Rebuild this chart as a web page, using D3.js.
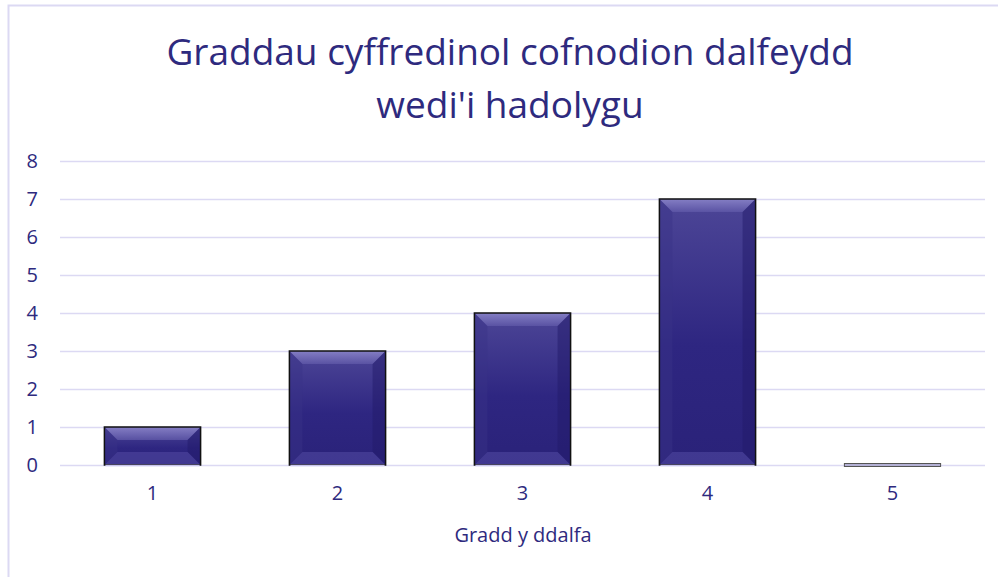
<!DOCTYPE html>
<html>
<head>
<meta charset="utf-8">
<script src="https://cdn.jsdelivr.net/npm/d3@7/dist/d3.min.js"></script>
<style>
  html, body { margin: 0; padding: 0; background: #fff; }
  svg { display: block; }
</style>
</head>
<body>
<svg id="chart" width="998" height="577"></svg>
<script>
// Chart data
const categories = ["1", "2", "3", "4", "5"];
const values = [1, 3, 4, 7, 0];
const yTicks = [0, 1, 2, 3, 4, 5, 6, 7, 8];
const titleLines = ["Graddau cyffredinol cofnodion dalfeydd", "wedi'i hadolygu"];
const xAxisTitle = "Gradd y ddalfa";

const W = 998, H = 577;
const ink = "#2e2a7e";
const gridColor = "#dcd9f3";
const font = "'Open Sans', 'Noto Sans', sans-serif";

const svg = d3.select("#chart");
const defs = svg.append("defs");

// Body gradient for the bevelled bars
const g1 = defs.append("linearGradient").attr("id", "barBody")
  .attr("x1", 0).attr("y1", 0).attr("x2", 0).attr("y2", 1);
g1.append("stop").attr("offset", "0%").attr("stop-color", "#4d4697");
g1.append("stop").attr("offset", "55%").attr("stop-color", "#2e2681");
g1.append("stop").attr("offset", "100%").attr("stop-color", "#2a2279");

// Top bevel gradient: bright at the edge, fading inwards
const g2 = defs.append("linearGradient").attr("id", "bevelTop")
  .attr("x1", 0).attr("y1", 0).attr("x2", 0).attr("y2", 1);
g2.append("stop").attr("offset", "0%").attr("stop-color", "#8e88cc");
g2.append("stop").attr("offset", "100%").attr("stop-color", "#5d56a6");

// Chart frame
svg.append("rect")
  .attr("x", 8.5).attr("y", 5.5)
  .attr("width", W + 10).attr("height", H + 10)
  .attr("fill", "none").attr("stroke", gridColor).attr("stroke-width", 2);

// Title
svg.append("text")
  .attr("text-anchor", "middle")
  .attr("font-family", font).attr("font-size", 37)
  .attr("fill", ink)
  .selectAll("tspan").data(titleLines).join("tspan")
  .attr("x", 510).attr("y", (d, i) => 65 + i * 53)
  .text(d => d);

const x = d3.scaleBand().domain(categories).range([60, 985]).paddingInner(0.48).paddingOuter(0.24);
const y = d3.scaleLinear().domain([0, 8]).range([465, 161]);

// Gridlines
svg.append("g").selectAll("line").data(yTicks).join("line")
  .attr("x1", 60).attr("x2", 985)
  .attr("y1", d => y(d) + 0.5).attr("y2", d => y(d) + 0.5)
  .attr("stroke", gridColor).attr("stroke-width", 1.5);

// Y axis labels
const yAxis = d3.axisLeft(y).tickValues(yTicks).tickSize(0).tickPadding(0);
const yg = svg.append("g").attr("transform", "translate(38,0)").call(yAxis);
yg.select(".domain").remove();
yg.selectAll("text")
  .attr("font-family", font).attr("font-size", 20).attr("fill", ink);

// X axis labels
const xAxis = d3.axisBottom(x).tickSize(0).tickPadding(0);
const xg = svg.append("g").attr("transform", "translate(0,486)").call(xAxis);
xg.select(".domain").remove();
xg.selectAll("text")
  .attr("font-family", font).attr("font-size", 20).attr("fill", ink);

// X axis title
svg.append("text")
  .attr("x", 523).attr("y", 542)
  .attr("text-anchor", "middle")
  .attr("font-family", font).attr("font-size", 20)
  .attr("fill", ink)
  .text(xAxisTitle);

// Bars with bevel
const bars = svg.append("g").selectAll("g").data(values.map((v, i) => ({ c: categories[i], v })))
  .join("g");

bars.each(function(d) {
  const g = d3.select(this);
  const x0 = x(d.c), w = x.bandwidth();
  const y0 = y(d.v), y1 = y(0);
  const h = y1 - y0;
  if (h < 2) {
    // zero-height bar: flat outline only
    g.append("rect").attr("x", x0).attr("y", y1 - 1.5).attr("width", w).attr("height", 3)
      .attr("fill", "#b3b0d4").attr("stroke", "#555").attr("stroke-width", 1);
    return;
  }
  const b = Math.min(13, h / 2);
  g.append("rect").attr("x", x0).attr("y", y0).attr("width", w).attr("height", h)
    .attr("fill", "url(#barBody)");
  // top bevel (light)
  g.append("polygon")
    .attr("points", [[x0, y0], [x0 + w, y0], [x0 + w - b, y0 + b], [x0 + b, y0 + b]].join(" "))
    .attr("fill", "url(#bevelTop)").attr("opacity", 0.85);
  // left bevel
  g.append("polygon")
    .attr("points", [[x0, y0], [x0 + b, y0 + b], [x0 + b, y1 - b], [x0, y1]].join(" "))
    .attr("fill", "#3a3288").attr("opacity", 0.45);
  // right bevel
  g.append("polygon")
    .attr("points", [[x0 + w, y0], [x0 + w - b, y0 + b], [x0 + w - b, y1 - b], [x0 + w, y1]].join(" "))
    .attr("fill", "#221a6a").attr("opacity", 0.5);
  // bottom bevel
  g.append("polygon")
    .attr("points", [[x0, y1], [x0 + b, y1 - b], [x0 + w - b, y1 - b], [x0 + w, y1]].join(" "))
    .attr("fill", "#5048a0").attr("opacity", 0.6);
  // outline
  g.append("rect").attr("x", x0).attr("y", y0).attr("width", w).attr("height", h)
    .attr("fill", "none").attr("stroke", "#111").attr("stroke-width", 1.5);
  // baseline highlight
  g.append("line").attr("x1", x0 + 1).attr("x2", x0 + w - 1)
    .attr("y1", y1 + 0.5).attr("y2", y1 + 0.5)
    .attr("stroke", "#c9c5ee").attr("stroke-width", 1.5);
});
</script>
</body>
</html>
